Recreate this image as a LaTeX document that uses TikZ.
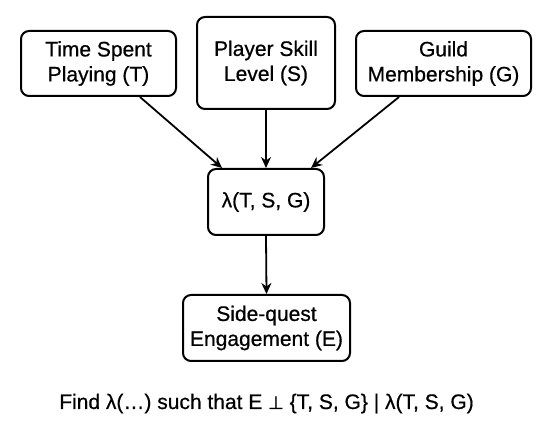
\documentclass[tikz,border=0pt]{standalone}
\usepackage{fontspec}
\setmainfont{Liberation Sans}[UprightFeatures={FakeBold=0.6}]
\newfontfamily\symfont{DejaVu Sans}[FakeBold=0.6]
\usetikzlibrary{arrows.meta}
\tikzset{
  box/.style={draw=black, line width=2pt, rounded corners=8pt, fill=white,
    align=center, inner sep=0pt, font=\fontsize{21}{25}\selectfont},
  conn/.style={line width=1.8pt, -{Stealth[length=11pt,width=10pt]}},
  every node/.append style={text=black}
}
\begin{document}
\begin{tikzpicture}[x=1pt,y=-1pt]
\path[use as bounding box, fill=white] (0,0) rectangle (552,430);
\node[box, minimum width=155pt, minimum height=65pt] (T) at (98.5,63.5) {Time Spent\\Playing (T)};
\node[box, minimum width=138pt, minimum height=92pt] (S) at (266,63) {Player Skill\\Level (S)};
\node[box, minimum width=175pt, minimum height=65pt] (G) at (443.5,63.5) {Guild\\Membership (G)};
\node[box, minimum width=116pt, minimum height=66pt] (L) at (266,202) {λ(T, S, G)};
\node[box, minimum width=167pt, minimum height=66pt] (E) at (266.5,328) {Side-quest\\Engagement (E)};
\node[font=\fontsize{21}{25}\selectfont, anchor=base, inner sep=0pt] (F) at (266.5,409)
  {Find λ(…) such that E {\symfont\fontsize{18}{25}\selectfont ⊥} \{T, S, G\} | λ(T, S, G)};
\draw[conn] ([xshift=41.5pt]T.south) -- ([xshift=-44pt]L.north);
\draw[conn] (S.south) -- (L.north);
\draw[conn] ([xshift=-44.5pt]G.south) -- ([xshift=45pt]L.north);
\draw[conn] (L.south) -- (E.north);
\end{tikzpicture}
\end{document}
